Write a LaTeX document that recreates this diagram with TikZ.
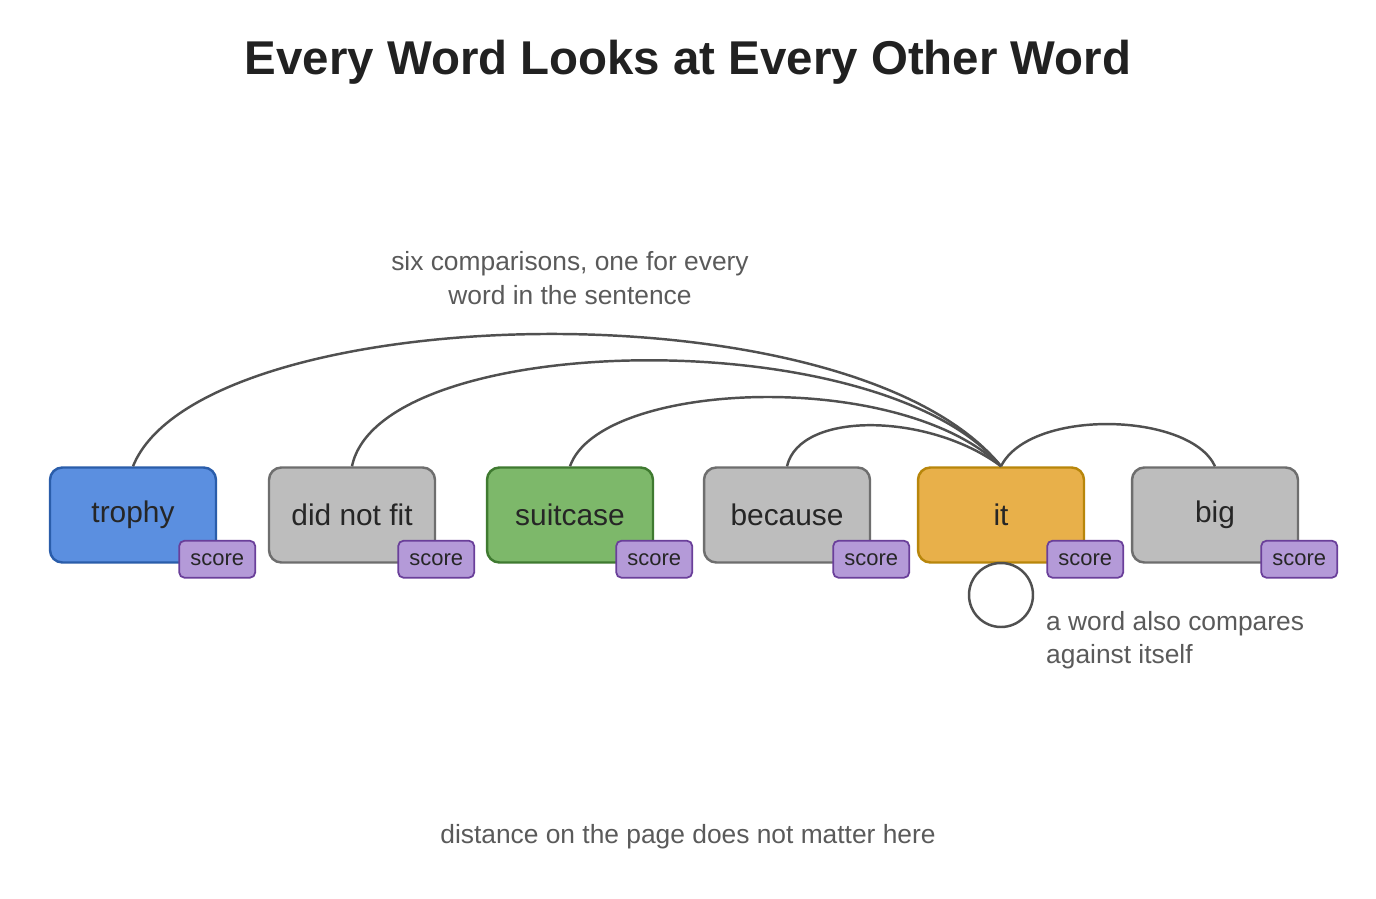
\documentclass[tikz,border=0pt]{standalone}
\usepackage{fontspec}
\setmainfont{Liberation Sans}
\usetikzlibrary{positioning,calc}
\definecolor{textgray}{HTML}{5A5A5A}
\definecolor{linegray}{HTML}{505050}
\definecolor{wordgray}{HTML}{BDBDBD}
\definecolor{wordgrayline}{HTML}{6E6E6E}
\definecolor{trophyfill}{HTML}{5B8FE0}
\definecolor{trophyline}{HTML}{2A5DAA}
\definecolor{suitfill}{HTML}{7DB86A}
\definecolor{suitline}{HTML}{3F7A30}
\definecolor{itfill}{HTML}{E8B04A}
\definecolor{itline}{HTML}{B8860B}
\definecolor{scorefill}{HTML}{B49AD8}
\definecolor{scoreline}{HTML}{6A3F9A}
\tikzset{
  word/.style={draw=wordgrayline, fill=wordgray, line width=1.4pt, rounded corners=7pt,
    minimum width=3.32cm, minimum height=1.9cm, font=\fontsize{17}{20}\selectfont, text=black!85},
  score/.style={draw=scoreline, fill=scorefill, line width=1pt, rounded corners=3pt,
    minimum width=1.52cm, minimum height=0.74cm, inner sep=0pt, font=\fontsize{12.5}{14}\selectfont, text=black!85},
  link/.style={draw=linegray, line width=1.4pt},
  note/.style={text=textgray, font=\fontsize{15}{19}\selectfont}
}
\begin{document}
\begin{tikzpicture}[x=0.02cm,y=-0.02cm]
\useasboundingbox[fill=white] (0,0) rectangle (1376,899);
\node[font=\bfseries\fontsize{27}{32}\selectfont, text=black!87] (title) at (688,62) {Every Word Looks at Every Other Word};

% the sentence
\node[word, fill=trophyfill, draw=trophyline] (trophy) at (133,515) {trophy};
\node[word] (didnotfit) at (352,515) {did not fit};
\node[word, fill=suitfill, draw=suitline] (suitcase) at (570,515) {suitcase};
\node[word] (because) at (787,515) {because};
\node[word, fill=itfill, draw=itline] (it) at (1001,515) {it};
\node[word] (big) at (1215,515) {big};

\foreach \w in {trophy,didnotfit,suitcase,because,it,big}
  \node[score] (\w-score) at ([yshift=0.09cm]\w.south east) {score};

% comparisons
\draw[link] (trophy.north) .. controls (200,300) and (850,280) .. (it.north);
\draw[link] (didnotfit.north) .. controls (380,330) and (880,320) .. (it.north);
\draw[link] (suitcase.north) .. controls (600,380) and (900,368) .. (it.north);
\draw[link] (because.north) .. controls (800,410) and (930,413) .. (it.north);
\draw[link] (it.north) .. controls (1030,408) and (1190,412) .. (big.north);
\node[circle, draw=linegray, line width=1.4pt, minimum size=1.28cm, inner sep=0pt] (selfloop) at (1001,595) {};

\node[note, align=center] (sixnote) at (570,278) {six comparisons, one for every\\word in the sentence};
\node[note, align=left, anchor=west] (selfnote) at (1040,640) {a word also compares\\against itself};
\node[note] (distnote) at (688,837) {distance on the page does not matter here};
\end{tikzpicture}
\end{document}
